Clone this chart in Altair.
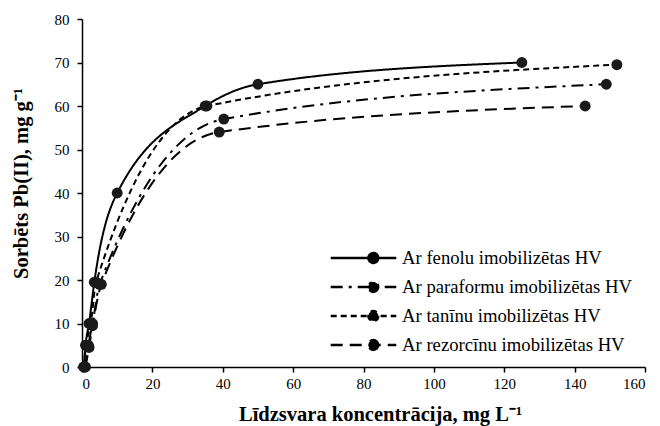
import altair as alt
import pandas as pd

series_names = [
    "Ar fenolu imobilizētas HV",
    "Ar paraformu imobilizētas HV",
    "Ar tanīnu imobilizētas HV",
    "Ar rezorcīnu imobilizētas HV",
]

fenolu_x = [0.5, 1.0, 2.0, 3.5, 10.0, 35.0, 50.0, 125.0]
fenolu_y = [0.0, 5.0, 10.0, 19.5, 40.0, 60.0, 65.0, 70.0]

paraformu_x = [0.8, 1.8, 3.0, 5.0, 40.3, 149.0]
paraformu_y = [0.0, 5.0, 10.0, 19.0, 57.0, 65.0]

taninu_x = [0.5, 1.2, 2.5, 4.0, 35.5, 152.0]
taninu_y = [0.0, 5.0, 10.0, 19.5, 60.0, 69.5]

rezorcinu_x = [1.0, 2.0, 3.0, 5.5, 39.0, 143.0]
rezorcinu_y = [0.0, 4.5, 9.5, 19.0, 54.0, 60.0]

x_ticks = [0, 20, 40, 60, 80, 100, 120, 140, 160]
y_ticks = [0, 10, 20, 30, 40, 50, 60, 70, 80]

rows = []
for name, xs, ys in zip(
    series_names,
    [fenolu_x, paraformu_x, taninu_x, rezorcinu_x],
    [fenolu_y, paraformu_y, taninu_y, rezorcinu_y],
):
    for i, (xv, yv) in enumerate(zip(xs, ys)):
        rows.append({"series": name, "x": xv, "y": yv, "order": i})
df = pd.DataFrame(rows)

dash_range = [[1, 0], [12, 6, 3, 6], [6, 4], [12, 7]]

legend_symbol = "M-1,0H1M0.45,0A0.15,0.15,0,1,1,0.15,0A0.15,0.15,0,1,1,0.45,0Z"

FONT = "Times New Roman"

x_enc = alt.X(
    "x:Q",
    scale=alt.Scale(domain=[0, 160], nice=False, zero=False),
    axis=alt.Axis(
        values=x_ticks,
        title="Līdzsvara koncentrācija, mg L⁻¹",
        titleX=298,
        titleY=53,
        titleBaseline="alphabetic",
        labelPadding=4,
    ),
)
y_enc = alt.Y(
    "y:Q",
    scale=alt.Scale(domain=[0, 80], nice=False),
    axis=alt.Axis(
        values=y_ticks,
        title="Sorbēts Pb(II), mg g⁻¹",
        titleX=-61,
        titleY=164,
        titleBaseline="middle",
        labelPadding=8,
    ),
)

lines = alt.Chart(df).mark_line(
    interpolate="monotone", color="black", strokeWidth=2
).encode(
    x=x_enc,
    y=y_enc,
    order="order:Q",
    strokeDash=alt.StrokeDash(
        "series:N",
        scale=alt.Scale(domain=series_names, range=dash_range),
        sort=series_names,
        legend=alt.Legend(
            title=None,
            orient="none",
            legendX=247,
            legendY=229,
            symbolType=legend_symbol,
            symbolSize=4300,
            symbolStrokeWidth=2.5,
            symbolStrokeColor="black",
            symbolFillColor="black",
            clipHeight=20,
            rowPadding=9,
            labelFontSize=18.7,
            labelFont=FONT,
            labelColor="black",
            labelOffset=4,
            labelLimit=400,
        ),
    ),
)

points = alt.Chart(df).mark_point(
    filled=True, color="#1a1a1a", size=120, opacity=1
).encode(
    x="x:Q",
    y="y:Q",
    detail="series:N",
)

chart = (
    alt.layer(lines, points)
    .properties(
        width=563,
        height=348,
        padding={"left": 74, "top": 11, "right": 7, "bottom": 59},
        autosize=alt.AutoSizeParams(type="none"),
        background="white",
    )
    .configure_view(stroke=None)
    .configure_axis(
        grid=False,
        domainColor="black",
        domainWidth=1.5,
        tickColor="black",
        tickWidth=1.5,
        tickSize=5,
        labelFont=FONT,
        labelFontSize=15,
        labelColor="black",
        titleFont=FONT,
        titleFontSize=20.5,
        titleFontWeight="bold",
        titleColor="black",
    )
)

chart.save("out.html", embed_options={"renderer": "svg", "actions": False})
